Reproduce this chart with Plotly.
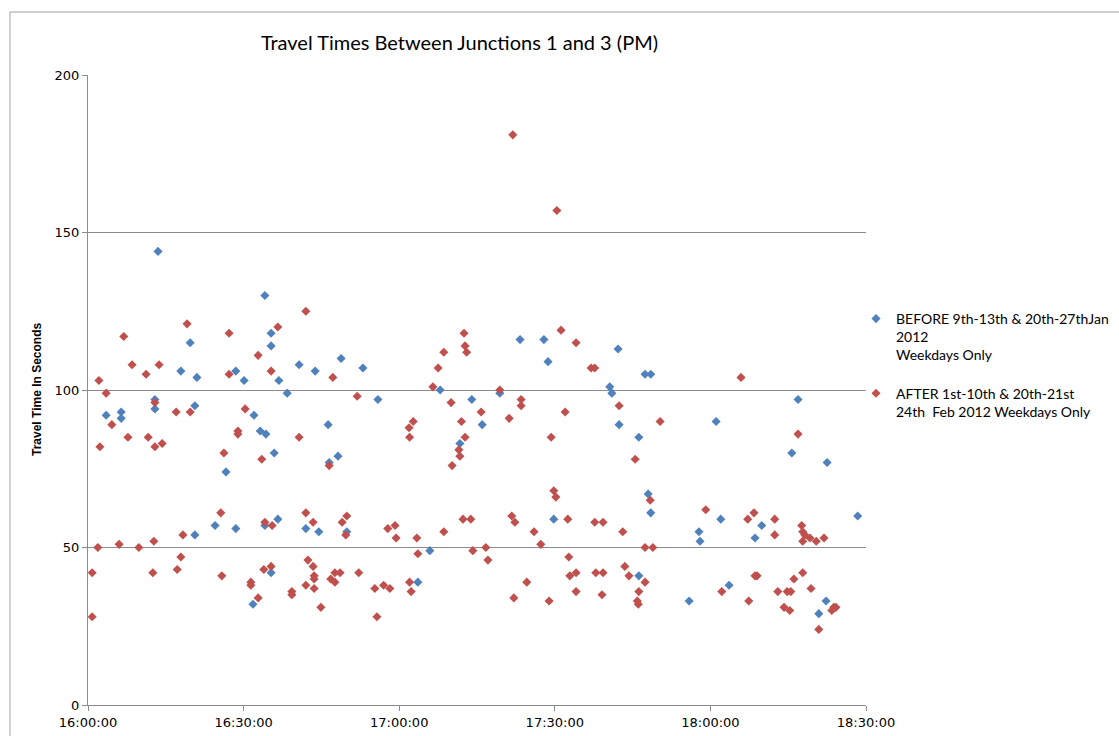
import pandas as pd
import plotly.graph_objects as go

# minutes after 16:00:00 and travel times (seconds)
before_minutes = [3.5, 6.4, 6.4, 12.9, 12.9, 13.5, 17.9, 19.7, 20.6, 21.0, 20.6, 24.5, 26.6, 28.5, 28.5,
                  30.1, 32.0, 33.2, 34.1, 34.1, 34.3, 35.3, 35.3, 35.3, 35.9, 31.8, 36.6, 36.8, 38.4, 40.7,
                  42.0, 43.8, 44.5, 46.3, 46.5, 48.2, 48.8, 49.9, 53.0, 55.9, 63.6, 65.9, 67.9, 71.7, 74.0,
                  76.0, 79.4, 83.3, 87.9, 88.7, 89.8, 100.6, 101.0, 102.2, 102.4, 106.2, 106.2, 107.4, 108.5,
                  108.0, 108.5, 115.9, 117.8, 118.0, 121.1, 122.0, 123.6, 128.6, 129.9, 135.7, 136.9, 140.9,
                  142.3, 142.5, 148.4]
before_values = [92, 93, 91, 97, 94, 144, 106, 115, 95, 104, 54, 57, 74, 106, 56,
                 103, 92, 87, 130, 57, 86, 118, 114, 42, 80, 32, 59, 103, 99, 108,
                 56, 106, 55, 89, 77, 79, 110, 55, 107, 97, 39, 49, 100, 83, 97,
                 89, 99, 116, 116, 109, 59, 101, 99, 113, 89, 85, 41, 105, 105,
                 67, 61, 33, 55, 52, 90, 59, 38, 53, 57, 80, 97, 29,
                 33, 77, 60]

after_minutes = [0.8, 0.8, 1.9, 2.1, 2.3, 3.5, 4.6, 6.0, 6.9, 7.7, 8.5, 9.8, 11.2, 11.6, 12.5, 12.7, 12.9,
                 12.9, 13.7, 14.3, 17.0, 17.2, 17.9, 18.3, 19.1, 19.7, 25.6, 25.8, 26.2, 27.2, 27.2, 28.9,
                 28.9, 30.3, 31.4, 31.4, 32.8, 32.8, 33.5, 33.9, 34.1, 35.3, 35.3, 35.5, 36.6, 39.3, 39.3,
                 40.7, 42.0, 42.0, 42.0, 42.4, 43.4, 43.4, 43.6, 43.6, 43.6, 44.9, 46.5, 46.8, 47.2, 47.6,
                 47.6, 48.6, 49.0, 49.9, 49.7, 51.9, 52.2, 55.3, 55.7, 57.0, 58.2, 57.8, 59.2, 59.4, 61.9,
                 62.0, 62.7, 62.0, 62.3, 63.4, 63.6, 66.5, 67.5, 68.6, 68.6, 70.0, 70.2, 71.5, 71.7, 72.0,
                 72.5, 72.7, 73.0, 72.7, 72.3, 73.8, 74.2, 75.8, 76.7, 77.1, 79.4, 81.2, 81.7, 81.9, 82.1,
                 82.3, 83.5, 83.5, 84.6, 86.0, 87.3, 88.9, 89.3, 89.8, 90.2, 90.4, 91.2, 92.0, 92.5, 92.7,
                 92.9, 94.1, 94.1, 94.1, 97.0, 97.7, 97.7, 99.3, 97.9, 99.3, 99.1, 102.4, 103.1, 103.5,
                 104.3, 105.5, 105.9, 106.1, 106.2, 107.4, 107.4, 108.4, 108.9, 110.3, 119.1, 122.2, 125.9,
                 127.2, 127.4, 128.4, 128.6, 129.0, 132.4, 132.4, 133.0, 134.2, 134.8, 135.3, 135.5, 136.1,
                 136.9, 137.6, 137.8, 137.8, 137.8, 138.2, 139.2, 139.4, 140.4, 140.9, 141.9, 143.4, 143.8,
                 144.2]
after_values = [42, 28, 50, 103, 82, 99, 89, 51, 117, 85, 108, 50, 105, 85, 42, 52, 96,
                82, 108, 83, 93, 43, 47, 54, 121, 93, 61, 41, 80, 118, 105, 87,
                86, 94, 39, 38, 111, 34, 78, 43, 58, 106, 44, 57, 120, 36, 35,
                85, 125, 61, 38, 46, 58, 44, 41, 40, 37, 31, 76, 40, 104, 39,
                42, 42, 58, 60, 54, 98, 42, 37, 28, 38, 37, 56, 57, 53, 88,
                85, 90, 39, 36, 53, 48, 101, 107, 112, 55, 96, 76, 81, 79, 90,
                118, 114, 112, 85, 59, 59, 49, 93, 50, 46, 100, 91, 60, 181, 34,
                58, 97, 95, 39, 55, 51, 33, 85, 68, 66, 157, 119, 93, 59, 47,
                41, 42, 36, 115, 107, 107, 58, 58, 42, 42, 35, 95, 55, 44,
                41, 78, 33, 32, 36, 39, 50, 65, 50, 90, 62, 36, 104,
                59, 33, 61, 41, 41, 59, 54, 36, 31, 36, 30, 36, 40,
                86, 57, 55, 52, 42, 54, 53, 37, 52, 24, 53, 30, 31,
                31]

tick_labels = ["16:00:00", "16:30:00", "17:00:00", "17:30:00", "18:00:00", "18:30:00"]
y_ticks = [0, 50, 100, 150, 200]

series_names = ["BEFORE 9th-13th & 20th-27thJan<br>2012<br>Weekdays Only",
                "AFTER 1st-10th & 20th-21st<br>24th  Feb 2012 Weekdays Only"]
series_colors = ["#4F81BD", "#C0504D"]

base = pd.Timestamp("2012-01-02 16:00:00")
def to_time(mins):
    return [base + pd.Timedelta(minutes=m) for m in mins]

tick_vals = [pd.Timestamp("2012-01-02 " + t) for t in tick_labels]

fig = go.Figure()
for i, (name, mins, vals, col) in enumerate([
        (series_names[0], before_minutes, before_values, series_colors[0]),
        (series_names[1], after_minutes, after_values, series_colors[1])]):
    fig.add_trace(go.Scatter(
        x=to_time(mins), y=vals, mode="markers", name=name, legendgroup=f"g{i}",
        marker=dict(symbol="diamond", size=7, color=col, line=dict(width=0)),
    ))

grey = "#8c8c8c"
fig.update_layout(
    width=1119, height=736,
    margin=dict(l=88, r=253, t=75, b=31, autoexpand=False),
    paper_bgcolor="white", plot_bgcolor="white",
    showlegend=True,
    legend=dict(x=(856 - 88) / 778, y=(705 - 303) / 630, xanchor="left", yanchor="top",
                font=dict(family="Lato", size=14, color="#000"),
                valign="top", traceorder="grouped", tracegroupgap=17, itemwidth=30,
                bgcolor="rgba(0,0,0,0)"),
    title=dict(text="Travel Times Between Junctions 1 and 3 (PM)",
               x=459.5 / 1119, xanchor="center", y=1 - 43 / 736, yanchor="middle",
               font=dict(family="Lato", size=20, color="#000")),
    font=dict(family="DejaVu Sans", size=13, color="#000"),
)
fig.update_xaxes(
    type="date", range=[tick_vals[0], tick_vals[-1]],
    tickvals=tick_vals, ticktext=tick_labels,
    showgrid=False, zeroline=False,
    showline=True, linecolor=grey, linewidth=1,
    ticks="outside", ticklen=5, tickcolor=grey,
    tickfont=dict(family="DejaVu Sans", size=13, color="#000"),
)
fig.update_yaxes(
    range=[0, 200], tickvals=y_ticks,
    showgrid=True, gridcolor=grey, gridwidth=1, zeroline=False,
    showline=True, linecolor=grey, linewidth=1,
    ticks="outside", ticklen=5, tickcolor=grey,
    tickfont=dict(family="DejaVu Sans", size=13, color="#000"),
)
fig.add_annotation(text="<b>Travel Time In Seconds</b>", textangle=-90,
                   xref="paper", yref="paper", x=(37 - 88) / 778, y=0.5,
                   xanchor="center", yanchor="middle", showarrow=False,
                   font=dict(family="Liberation Sans", size=12, color="#000"))
# outer chart border
fig.add_shape(type="rect", xref="paper", yref="paper",
              x0=(10 - 88) / 778, x1=(1130 - 88) / 778,
              y0=(705 - 745) / 630, y1=(705 - 12) / 630,
              line=dict(color="#a0a0a0", width=1), fillcolor="rgba(0,0,0,0)", layer="below")

fig.write_html("out.html")
